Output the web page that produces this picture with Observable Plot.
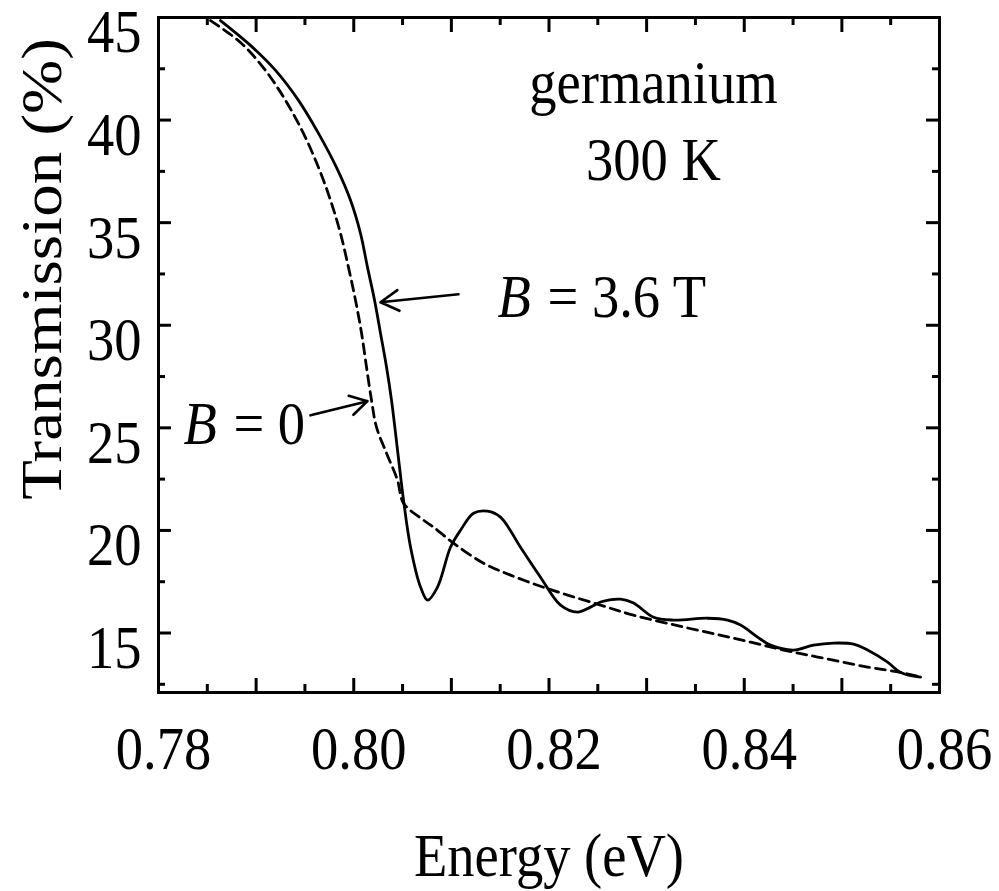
<!DOCTYPE html>
<html>
<head>
<meta charset="utf-8">
<script src="https://cdn.jsdelivr.net/npm/d3@7"></script>
<script src="https://cdn.jsdelivr.net/npm/@observablehq/plot@0.6"></script>
<style>
  html, body { margin: 0; padding: 0; background: #fff; }
  #chart svg { display: block; }
</style>
</head>
<body>
<div id="chart"></div>
<script>
// ---------- data ----------
const solidEnergy = [0.78635, 0.78942, 0.79199, 0.79434, 0.79639, 0.79823, 0.79967, 0.80069, 0.80141, 0.80213,
  0.80274, 0.80336, 0.80387, 0.80428, 0.80469, 0.80510, 0.80582, 0.80684, 0.80756, 0.80858,
  0.80991, 0.81094, 0.81227, 0.81370, 0.81503, 0.81708, 0.81913, 0.82118, 0.82292, 0.82425,
  0.82528, 0.82733, 0.82866, 0.83071, 0.83276, 0.83624, 0.83829, 0.83962, 0.84136, 0.84269,
  0.84505, 0.84710, 0.84915, 0.85120, 0.85263, 0.85468, 0.85601, 0.85806];
const solidTransmission = [44.85, 43.64, 42.42, 40.96, 39.35, 37.69, 36.09, 34.48, 32.82, 31.22,
  29.61, 27.95, 26.34, 24.74, 23.08, 21.47, 19.18, 17.24, 16.60, 17.24,
  19.18, 20.01, 20.84, 20.94, 20.65, 19.18, 17.72, 16.36, 16.02, 16.26,
  16.51, 16.65, 16.46, 15.77, 15.63, 15.72, 15.63, 15.39, 14.80, 14.41,
  14.17, 14.41, 14.51, 14.46, 14.17, 13.58, 13.08, 12.85];

const dashedEnergy = [0.78533, 0.78840, 0.79096, 0.79301, 0.79485, 0.79639, 0.79762, 0.79864, 0.79946, 0.80018,
  0.80080, 0.80131, 0.80182, 0.80233, 0.80336, 0.80448, 0.80510, 0.80715, 0.80817, 0.81022,
  0.81329, 0.81606, 0.81913, 0.82190, 0.82528, 0.82866, 0.83378, 0.83890, 0.84402, 0.84751,
  0.85263, 0.85601, 0.85806];
const dashedTransmission = [44.85, 43.78, 42.42, 40.96, 39.35, 37.69, 36.09, 34.48, 32.82, 31.22,
  29.61, 27.95, 26.34, 25.03, 23.76, 22.45, 21.33, 20.50, 20.16, 19.38,
  18.40, 17.82, 17.28, 16.85, 16.36, 15.87, 15.29, 14.75, 14.17, 13.83,
  13.34, 13.08, 12.85];

const xMajorTicks = [0.78, 0.79, 0.80, 0.81, 0.82, 0.83, 0.84, 0.85, 0.86];
const xMinorTicks = [0.785, 0.795, 0.805, 0.815, 0.825, 0.835, 0.845, 0.855];
const xTickLabels = [0.78, 0.80, 0.82, 0.84, 0.86];
const yMajorTicks = [15, 20, 25, 30, 35, 40, 45];
const yMinorTicks = [12.5, 17.5, 22.5, 27.5, 32.5, 37.5, 42.5];
const yTickLabels = [15, 20, 25, 30, 35, 40, 45];

const xTitle = "Energy (eV)";
const yTitle = "Transmission (%)";

// annotations (data coordinates)
const noteText = ["germanium", "300 K"];
const noteEnergy = [0.8307, 0.8307];
const noteTransmission = [41.79, 38.03];

const bLabelText = ["B", "= 3.6 T", "B", "= 0"];
const bLabelItalic = [true, false, true, false];
const bLabelEnergy = [0.81473, 0.81985, 0.78256, 0.78768];
const bLabelTransmission = [31.36, 31.36, 25.18, 25.18];

const arrowFromEnergy = [0.81073, 0.79557];
const arrowFromTransmission = [31.51, 25.61];
const arrowToEnergy = [0.80274, 0.80141];
const arrowToTransmission = [31.12, 26.30];

// ---------- build ----------
const solid = solidEnergy.map((e, i) => ({e, t: solidTransmission[i]}));
const dashed = dashedEnergy.map((e, i) => ({e, t: dashedTransmission[i]}));
const notes = noteText.map((s, i) => ({s, e: noteEnergy[i], t: noteTransmission[i]}));
const bLabels = bLabelText.map((s, i) => ({s, it: bLabelItalic[i], e: bLabelEnergy[i], t: bLabelTransmission[i]}));
const arrows = arrowFromEnergy.map((e, i) => ({x1: e, y1: arrowFromTransmission[i], x2: arrowToEnergy[i], y2: arrowToTransmission[i]}));

const W = 999, H = 891, mL = 158, mR = 60, mT = 17, mB = 199;
const plotW = W - mL - mR, plotH = H - mT - mB;
const font = "'Liberation Serif', 'Times New Roman', Times, serif";

const chart = Plot.plot({
  width: W, height: H,
  marginLeft: mL, marginRight: mR, marginTop: mT, marginBottom: mB,
  x: {domain: [0.78, 0.86]},
  y: {domain: [12.1, 45]},
  style: {fontFamily: font, fontSize: "62px", color: "black", background: "white", overflow: "visible"},
  marks: [
    // ticks (inward on all four sides)
    Plot.ruleX(xMajorTicks, {x: d => d, insetTop: plotH - 14, stroke: "black", strokeWidth: 3}),
    Plot.ruleX(xMajorTicks, {x: d => d, insetBottom: plotH - 15, stroke: "black", strokeWidth: 3}),
    Plot.ruleX(xMinorTicks, {x: d => d, insetTop: plotH - 8, stroke: "black", strokeWidth: 3}),
    Plot.ruleX(xMinorTicks, {x: d => d, insetBottom: plotH - 8, stroke: "black", strokeWidth: 3}),
    Plot.ruleY(yMajorTicks, {y: d => d, insetRight: plotW - 13, stroke: "black", strokeWidth: 3}),
    Plot.ruleY(yMajorTicks, {y: d => d, insetLeft: plotW - 13, stroke: "black", strokeWidth: 3}),
    Plot.ruleY(yMinorTicks, {y: d => d, insetRight: plotW - 7, stroke: "black", strokeWidth: 3}),
    Plot.ruleY(yMinorTicks, {y: d => d, insetLeft: plotW - 7, stroke: "black", strokeWidth: 3}),
    Plot.frame({stroke: "black", strokeWidth: 3}),
    // curves
    Plot.line(dashed, {x: "e", y: "t", curve: "catmull-rom", stroke: "black", strokeWidth: 2.8, strokeDasharray: "10,6"}),
    Plot.line(solid, {x: "e", y: "t", curve: "catmull-rom", stroke: "black", strokeWidth: 2.8}),
    // arrows
    Plot.arrow(arrows, {x1: "x1", y1: "y1", x2: "x2", y2: "y2", stroke: "black", strokeWidth: 2.6, headLength: 12}),
    // axes labels
    Plot.axisX(xTickLabels, {anchor: "bottom", tickSize: 0, tickPadding: 32, dx: 5, tickFormat: d3.format(".2f"), label: null, fontSize: 62}),
    Plot.axisY(yTickLabels, {anchor: "left", tickSize: 0, tickPadding: 17, dy: 15, label: null, fontSize: 62}),
    Plot.text([xTitle], {frameAnchor: "bottom", textAnchor: "middle", lineAnchor: "middle", dy: 164, fontSize: 62}),
    Plot.text([yTitle], {frameAnchor: "left", textAnchor: "middle", lineAnchor: "middle", rotate: -90, dx: -116, dy: -86, fontSize: 65}),
    // annotations
    Plot.text(notes, {x: "e", y: "t", text: "s", fontSize: 62}),
    Plot.text(bLabels.filter(d => d.it), {x: "e", y: "t", text: "s", textAnchor: "start", fontSize: 62, fontStyle: "italic"}),
    Plot.text(bLabels.filter(d => !d.it), {x: "e", y: "t", text: "s", textAnchor: "start", fontSize: 62})
  ]
});

// horizontal squash of glyphs, as in the reference (text only)
chart.querySelectorAll("text").forEach(t => {
  const tr = t.getAttribute("transform") || "";
  const m = tr.match(/^\s*translate\([^)]*\)/);
  if (m) {
    t.setAttribute("transform", tr.replace(m[0], m[0] + " scale(0.88,1)"));
  } else if (!tr) {
    const x = +t.getAttribute("x") || 0, y = +t.getAttribute("y") || 0;
    t.removeAttribute("x"); t.removeAttribute("y");
    t.setAttribute("transform", `translate(${x},${y}) scale(0.88,1)`);
  }
});

document.getElementById("chart").appendChild(chart);
</script>
</body>
</html>
